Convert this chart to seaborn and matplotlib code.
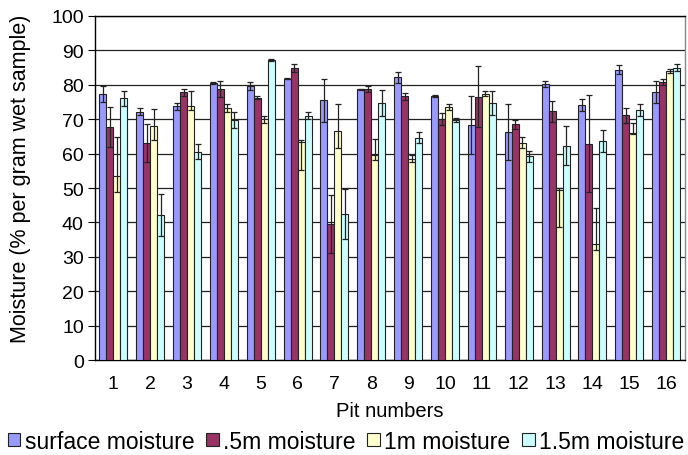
import pandas as pd
import numpy as np
import matplotlib
matplotlib.use("Agg")
import matplotlib.pyplot as plt
from matplotlib.patches import Patch
import seaborn as sns

# -----------------------------
# Data
# -----------------------------

pits = [str(i) for i in range(1, 17)]
series = ["surface moisture", ".5m moisture", "1m moisture", "1.5m moisture"]
colors = ["#9999FF", "#993366", "#FFFFCC", "#CCFFFF"]

surface = [77.3, 72.1, 73.7, 80.6, 79.6, 81.8, 75.5, 78.7,
           82.2, 76.7, 68.3, 66.3, 80.2, 74.2, 84.4, 77.9]
half_m = [67.7, 63.1, 77.8, 78.7, 76.2, 84.9, 39.6, 78.8,
          76.6, 70.1, 76.5, 68.5, 72.3, 62.9, 71.1, 80.8]
one_m = [53.5, 68.1, 73.9, 73.3, 70.0, 63.4, 66.5, 59.5,
         58.5, 73.6, 77.4, 63.2, 49.5, 33.6, 66.1, 84.0]
one_half_m = [76.0, 42.2, 60.5, 69.7, 87.2, 71.0, 42.4, 74.7,
              64.6, 69.7, 74.7, 59.2, 62.3, 63.7, 72.7, 85.0]

err_surface = [2.3, 1.0, 1.1, 0.3, 1.1, 0.2, 6.2, 0.2,
               1.6, 0.2, 8.4, 8.1, 0.8, 1.7, 1.2, 3.1]
err_half_m = [5.8, 5.6, 1.0, 2.3, 0.4, 1.1, 8.5, 0.9,
              1.0, 1.7, 8.9, 1.3, 3.0, 14.0, 2.1, 0.9]
err_one_m_lo = [4.7, 4.1, 1.3, 1.2, 1.0, 8.3, 5.0, 1.5,
                1.0, 0.9, 0.8, 1.6, 10.8, 1.5, 0.3, 0.6]
err_one_m_hi = [11.3, 4.8, 4.2, 1.2, 1.0, 0.5, 7.8, 4.6,
                1.0, 0.9, 0.8, 1.6, 0.6, 10.6, 2.9, 0.6]
err_one_half_m = [2.1, 6.0, 2.2, 2.4, 0.3, 1.0, 7.3, 3.7,
                  1.6, 0.5, 3.4, 1.5, 5.7, 3.2, 1.7, 1.0]

yticks = list(range(0, 101, 10))

# long table for seaborn
values = [surface, half_m, one_m, one_half_m]
df = pd.DataFrame({
    "Pit": pits * 4,
    "Series": np.repeat(series, len(pits)),
    "Moisture": np.concatenate(values),
})

errs = [
    (err_surface, err_surface),
    (err_half_m, err_half_m),
    (err_one_m_lo, err_one_m_hi),
    (err_one_half_m, err_one_half_m),
]

# -----------------------------
# Plot
# -----------------------------

sns.set_style("white")
plt.rcParams["font.family"] = ["Liberation Sans", "DejaVu Sans"]
plt.rcParams["text.color"] = "black"
plt.rcParams["axes.labelcolor"] = "black"
plt.rcParams["xtick.color"] = "black"
plt.rcParams["ytick.color"] = "black"

fig = plt.figure(figsize=(6.88, 4.56), dpi=100)
ax = fig.add_axes([0.138, 0.208, 0.857, 0.755])

sns.barplot(data=df, x="Pit", y="Moisture", hue="Series", hue_order=series,
            palette=colors, errorbar=None, width=0.76, gap=0,
            edgecolor="#222222", linewidth=0.8, saturation=1, ax=ax,
            legend=False, zorder=3)

for cont, (lo, hi) in zip(ax.containers, errs):
    xs = [p.get_x() + p.get_width() / 2 for p in cont.patches]
    hs = [p.get_height() for p in cont.patches]
    ax.errorbar(xs, hs, yerr=[lo, hi], fmt="none", ecolor="#222222",
                elinewidth=0.9, capsize=2.5, capthick=0.9, zorder=4)

ax.set_ylim(0, 100)
ax.set_xlim(-0.5, len(pits) - 0.5)
ax.set_yticks(yticks)
ax.set_yticklabels([str(t) for t in yticks], fontsize=14)
ax.tick_params(axis="y", length=5, width=0.8, color="black", left=True, pad=3)
ax.tick_params(axis="x", length=0, labelsize=14, pad=11)
ax.yaxis.grid(True, color="#222222", linewidth=0.9, zorder=0)
ax.set_axisbelow(True)

for side in ["left", "bottom", "top"]:
    ax.spines[side].set_color("black")
    ax.spines[side].set_linewidth(1)
ax.spines["right"].set_color("#888888")
ax.spines["right"].set_linewidth(1)

ax.set_xlabel("Pit numbers", fontsize=14.5, labelpad=-1)
ax.xaxis.set_label_coords(0.5, -0.118)
ax.set_ylabel("Moisture (% per gram wet sample)", fontsize=15.5)
ax.yaxis.set_label_coords(-0.108, 0.53)

handles = [Patch(facecolor=c, edgecolor="#222222", linewidth=0.8) for c in colors]
fig.legend(handles, series, loc="lower center", bbox_to_anchor=(0.503, -0.03),
           ncol=4, frameon=False, fontsize=16.5, handlelength=0.55,
           handleheight=0.55, handletextpad=0.2, columnspacing=0.5,
           borderpad=0.2)

fig.savefig("out.png", dpi=100)
